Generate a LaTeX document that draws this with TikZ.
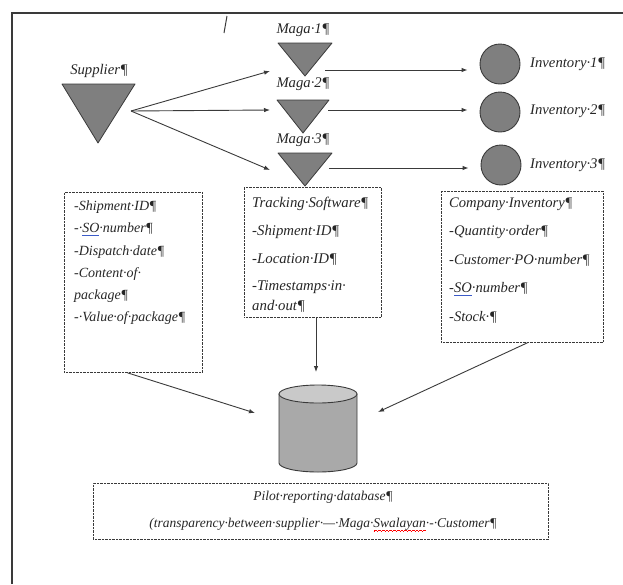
\documentclass[tikz,border=0pt]{standalone}
\usepackage{fontspec}
\setmainfont{Liberation Serif}
\usetikzlibrary{arrows.meta}

\definecolor{ink}{HTML}{262626}
\definecolor{trigray}{HTML}{7F7F7F}
\definecolor{edgegray}{HTML}{3A3A3A}
\definecolor{cylbody}{HTML}{A9A9A9}
\definecolor{cyltop}{HTML}{C9C9C9}
\definecolor{spellblue}{HTML}{3B5BC8}

% Word-style proofing marks under a word
\newcommand\grammarline[1]{\setbox0\hbox{#1}\rlap{\textcolor{spellblue}{\rule[-2.5pt]{\wd0}{0.7pt}}}\box0}
\newcommand\wavecell{\hbox{\rule[-3.6pt]{0.9pt}{0.6pt}\rule[-3.0pt]{0.9pt}{0.6pt}\rule[-2.6pt]{0.9pt}{0.6pt}\rule[-3.0pt]{0.9pt}{0.6pt}}}
\newcommand\spellwave[1]{\setbox0\hbox{#1}\rlap{\textcolor{red}{\xleaders\wavecell\hskip\wd0}}\box0}

\begin{document}
\begin{tikzpicture}[x=1pt, y=-1pt,
  tri/.style={fill=trigray, draw=edgegray, line width=0.8pt, line join=round},
  invnode/.style={circle, fill=trigray, draw=edgegray, line width=0.9pt, minimum size=40pt, inner sep=0},
  conn/.style={draw=edgegray, line width=0.9pt, -{Latex[length=6pt,width=4.5pt]}},
  infobox/.style={rectangle, draw=edgegray, dash pattern=on 0.9pt off 0.5pt, line width=0.8pt, inner sep=0, anchor=north west},
  lbl/.style={font=\fontsize{14.7}{17}\selectfont\itshape, text=ink, inner sep=0},
  boxtxt/.style={text=ink, inner sep=0, align=left, anchor=north west}
]
\useasboundingbox (0,0) rectangle (623,584);

% page frame
\draw[edgegray, line width=1.3pt] (12,584) -- (12,13) -- (623,13);
\draw[edgegray, line width=1pt] (227,16) -- (224,33);

% supplier and warehouses
\draw[tri] (62,84) -- (135,84) -- (98,143) -- cycle;
\draw[tri] (278,43) -- (332,43) -- (305,76) -- cycle;
\draw[tri] (277,100) -- (329,100) -- (303,133) -- cycle;
\draw[tri] (278,153) -- (332,153) -- (305,186) -- cycle;

\node[lbl] (suplbl) at (99,71) {Supplier¶};
\node[lbl] (m1lbl) at (303,30) {Maga·1¶};
\node[lbl] (m2lbl) at (303,84) {Maga·2¶};
\node[lbl] (m3lbl) at (303,140) {Maga·3¶};

\coordinate (supout) at (131,111);
\coordinate (m1in) at (270,71);
\coordinate (m2in) at (270,110);
\coordinate (m3in) at (270,170);
\coordinate (m1out) at (325,70);
\coordinate (m2out) at (328,110);
\coordinate (m3out) at (329,168);

% inventories
\node[invnode] (inv1) at (500,64) {};
\node[invnode] (inv2) at (500,112) {};
\node[invnode] (inv3) at (501,165) {};
\node[lbl, anchor=west] (inv1lbl) at (530,64) {Inventory·1¶};
\node[lbl, anchor=west] (inv2lbl) at (530,111) {Inventory·2¶};
\node[lbl, anchor=west] (inv3lbl) at (530,165) {Inventory·3¶};

\draw[conn] (supout) -- (m1in);
\draw[conn] (supout) -- (m2in);
\draw[conn] (supout) -- (m3in);
\draw[conn] (m1out) -- ([xshift=-12pt]inv1.west |- m1out);
\draw[conn] (m2out) -- ([xshift=-12pt]inv2.west |- m2out);
\draw[conn] (m3out) -- ([xshift=-12pt]inv3.west |- m3out);

% information boxes
\node[infobox, minimum width=138pt, minimum height=180pt] (ship) at (64,192) {};
\node[boxtxt, font=\fontsize{14}{22.3}\selectfont\itshape] (shiptxt) at (74,200.5)
  {-Shipment·ID¶\\ -·\grammarline{SO}·number¶\\ -Dispatch·date¶\\ -Content·of·\\ package¶\\ -·Value·of·package¶};

\node[infobox, minimum width=137pt, minimum height=130pt] (track) at (244,187) {};
\node[boxtxt, font=\fontsize{14.8}{20}\selectfont\itshape] (tracktxt) at (252,196.5)
  {Tracking·Software¶\\[8.5pt] -Shipment·ID¶\\[8pt] -Location·ID¶\\[7pt] -Timestamps·in·\\ and·out¶};

\node[infobox, minimum width=162pt, minimum height=151pt] (comp) at (441,191) {};
\node[boxtxt, font=\fontsize{14.6}{28.5}\selectfont\itshape] (comptxt) at (449,197.5)
  {Company·Inventory¶\\ -Quantity·order¶\\ -Customer·PO·number¶\\ -\grammarline{SO}·number¶\\ -Stock·¶};

% database
\node[rectangle, inner sep=0, minimum width=78pt, minimum height=87pt] (db) at (318,428.5) {};
\draw[fill=cylbody, draw=edgegray, line width=0.9pt]
  (279,394) -- (279,463) arc[start angle=180, end angle=360, x radius=39pt, y radius=9pt] -- (357,394) -- cycle;
\draw[fill=cyltop, draw=edgegray, line width=0.9pt] (318,394) ellipse [x radius=39pt, y radius=9pt];

\coordinate (dbtop) at (316,372);
\coordinate (dbleft) at (255,413);
\coordinate (dbright) at (378,412);
\draw[conn] (track.south -| dbtop) -- (dbtop);
\draw[conn] ([xshift=-6pt]ship.south) -- (dbleft);
\draw[conn] ([xshift=5pt]comp.south) -- (dbright);

% report box
\node[infobox, minimum width=455pt, minimum height=56pt] (report) at (93,483) {};
\node[text=ink, inner sep=0, align=center, anchor=north, font=\fontsize{13.5}{27}\selectfont\itshape] (reporttxt) at (323,491)
  {Pilot·reporting·database¶\\ (transparency·between·supplier·—·Maga·\spellwave{Swalayan}·-·Customer¶};
\end{tikzpicture}
\end{document}
